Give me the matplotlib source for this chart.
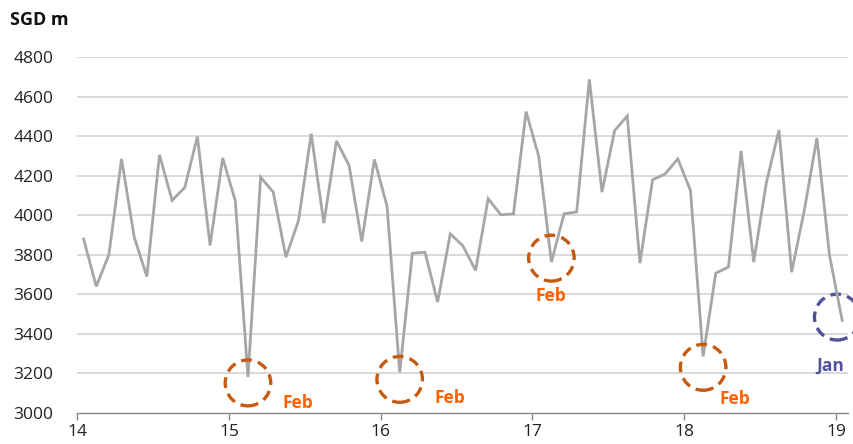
import numpy as np
import matplotlib.pyplot as plt
from matplotlib.patches import Ellipse

plt.rcParams["font.family"] = ["Open Sans", "DejaVu Sans"]

# Monthly values, Jan 2014 .. Jan 2019 (SGD m)
values = [
    3880, 3640, 3800, 4285, 3890, 3690, 4305, 4075, 4140, 4398, 3847, 4290,  # 2014
    4072, 3182, 4192, 4117, 3788, 3973, 4412, 3960, 4376, 4251, 3867, 4282,  # 2015
    4046, 3205, 3808, 3813, 3561, 3906, 3845, 3721, 4084, 4002, 4007, 4524,  # 2016
    4297, 3763, 4007, 4017, 4687, 4117, 4428, 4502, 3758, 4179, 4209, 4285,  # 2017
    4125, 3286, 3707, 3738, 4325, 3763, 4165, 4431, 3712, 4024, 4391, 3795,  # 2018
    3468,                                                                     # 2019
]
year_ticks = [14, 15, 16, 17, 18, 19]
y_ticks = [3000, 3200, 3400, 3600, 3800, 4000, 4200, 4400, 4600, 4800]

# highlighted months: (index into values, circle dy in SGD m)
feb_marks = [(13, -30), (25, -35), (37, 20), (49, -55)]
jan_mark = (60, 17)

x = 14 + (np.arange(len(values)) + 0.5) / 12.0

fig = plt.figure(figsize=(8.54, 4.44), dpi=100)
ax = fig.add_axes([0.0905, 0.0698, 0.9025, 0.8018])

ax.set_xlim(14, 19.08)
ax.set_ylim(3000, 4800)

for yv in y_ticks[1:]:
    ax.axhline(yv, color="#d9d9d9", linewidth=1.4, zorder=1)

ax.plot(x, values, color="#a6a6a6", linewidth=2.0, zorder=3,
        solid_joinstyle="miter")

circ_w = 0.30
circ_h = 232
feb_circle = "#c55a11"
feb_text = "#ff6200"
jan_col = "#525199"
dash = (0, (3.2, 1.9))

for idx, dy in feb_marks:
    e = Ellipse((x[idx], values[idx] + dy), circ_w, circ_h, fill=False,
                edgecolor=feb_circle, linewidth=2.4, linestyle=dash,
                zorder=4, clip_on=False)
    ax.add_patch(e)

# Feb labels
lab = dict(color=feb_text, fontsize=12.5, fontweight="bold",
           ha="center", va="center")
ax.text(x[13] + 0.33, 3050, "Feb", **lab)
ax.text(x[25] + 0.33, 3075, "Feb", **lab)
ax.text(x[37] - 0.005, 3590, "Feb", **lab)
ax.text(x[49] + 0.21, 3070, "Feb", **lab)

idx, dy = jan_mark
e = Ellipse((x[idx] - 0.033, values[idx] + dy), circ_w, circ_h, fill=False,
            edgecolor=jan_col, linewidth=2.4, linestyle=dash,
            zorder=2, clip_on=False)
ax.add_patch(e)
ax.text(x[idx] - 0.08, 3240, "Jan", color=jan_col, fontsize=12.5,
        fontweight="bold", ha="center", va="center")

ax.set_xticks(year_ticks)
ax.set_xticklabels([str(t) for t in year_ticks], fontsize=12.5, color="#222222")
ax.set_yticks(y_ticks)
ax.set_yticklabels([str(t) for t in y_ticks], fontsize=12.5, color="#222222")
ax.tick_params(axis="y", length=0, pad=17)
ax.tick_params(axis="x", length=5, width=1, color="#888888", pad=3)

for side in ["top", "right", "left"]:
    ax.spines[side].set_visible(False)
ax.spines["bottom"].set_color("#888888")
ax.spines["bottom"].set_linewidth(1.0)
ax.spines["bottom"].set_zorder(5)

fig.text(0.012, 0.955, "SGD m", fontsize=13, fontweight="bold",
         color="#111111", ha="left", va="center")

fig.savefig("out.png", dpi=100)
